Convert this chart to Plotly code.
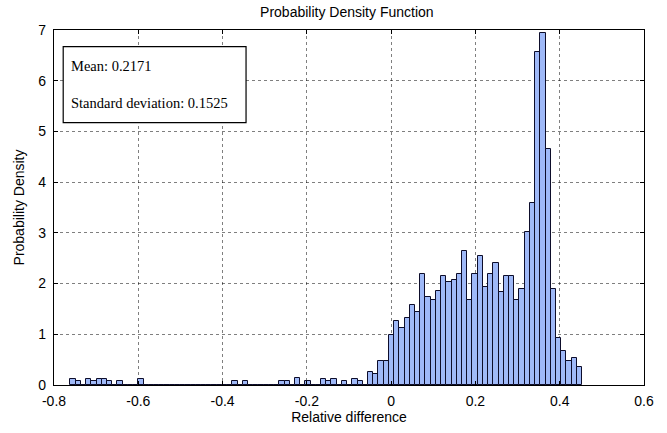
import numpy as np
import plotly.graph_objects as go

# Histogram (probability density), 98 equal bins
bin_lo = -0.7609
bin_hi = 0.4530
density = [
    0.12, 0.08, 0.00, 0.12, 0.08, 0.12, 0.12, 0.08, 0.00, 0.08,
    0.00, 0.00, 0.00, 0.12, 0.00, 0.00, 0.00, 0.00, 0.00, 0.00,
    0.00, 0.00, 0.00, 0.00, 0.00, 0.00, 0.00, 0.00, 0.00, 0.00,
    0.00, 0.08, 0.00, 0.08, 0.00, 0.00, 0.00, 0.00, 0.00, 0.00,
    0.08, 0.08, 0.00, 0.13, 0.00, 0.08, 0.00, 0.00, 0.12, 0.08,
    0.12, 0.00, 0.08, 0.00, 0.12, 0.08, 0.00, 0.26, 0.22, 0.47,
    0.47, 0.99, 1.27, 1.12, 1.32, 1.58, 1.43, 2.18, 1.73, 1.68,
    1.85, 2.14, 2.04, 2.08, 2.18, 2.64, 1.68, 2.18, 2.54, 1.94,
    2.18, 2.40, 1.84, 2.14, 2.14, 1.68, 1.89, 3.01, 3.58, 6.57,
    6.94, 4.65, 1.89, 0.93, 0.67, 0.48, 0.53, 0.36,
]
x_ticks = [-0.8, -0.6, -0.4, -0.2, 0, 0.2, 0.4, 0.6]
x_tick_text = ["-0.8", "-0.6", "-0.4", "-0.2", "0", "0.2", "0.4", "0.6"]
y_ticks = [0, 1, 2, 3, 4, 5, 6, 7]
stats_lines = ["Mean: 0.2171", "Standard deviation: 0.1525"]

n = len(density)
edges = np.linspace(bin_lo, bin_hi, n + 1)
centers = (edges[:-1] + edges[1:]) / 2
width = edges[1] - edges[0]

fig = go.Figure()
fig.add_trace(go.Bar(
    x=centers, y=density, width=width,
    marker=dict(color="#9fb9f8", line=dict(color="#0d0d2a", width=1)),
    showlegend=False,
))

font_sans = "Liberation Sans, Arial, sans-serif"
fig.update_layout(
    width=667, height=433,
    margin=dict(l=54, r=23, t=30, b=48),
    paper_bgcolor="white", plot_bgcolor="white",
    bargap=0,
    title=dict(text="Probability Density Function", x=0.52, xanchor="center",
               y=0.972, yanchor="middle",
               font=dict(family=font_sans, size=14, color="black")),
    font=dict(family=font_sans, size=13, color="black"),
)
fig.update_xaxes(
    range=[-0.8, 0.6], tickvals=x_ticks, ticktext=x_tick_text,
    showgrid=True, gridcolor="rgba(0,0,0,0.5)", griddash="dot", gridwidth=1,
    zeroline=False, showline=True, linecolor="black", linewidth=1.3, mirror="ticks",
    ticks="inside", ticklen=4, tickcolor="black",
    ticklabelstandoff=3,
    tickfont=dict(family=font_sans, size=14),
    title=dict(text="Relative difference", font=dict(family=font_sans, size=14), standoff=2),
)
fig.update_yaxes(
    range=[0, 7], tickvals=y_ticks,
    showgrid=True, gridcolor="rgba(0,0,0,0.5)", griddash="dot", gridwidth=1,
    zeroline=False, showline=True, linecolor="black", linewidth=1.3, mirror="ticks",
    ticks="inside", ticklen=4, tickcolor="black",
    ticklabelstandoff=4,
    tickfont=dict(family=font_sans, size=14),
    title=dict(text="Probability Density", font=dict(family=font_sans, size=14), standoff=10),
)

# Statistics text box
fig.add_shape(type="rect", xref="paper", yref="paper",
              x0=0.0156, x1=0.3255, y0=0.739, y1=0.953,
              line=dict(color="black", width=1.2), fillcolor="white", layer="above")
for text, yp in zip(stats_lines, [0.899, 0.795]):
    fig.add_annotation(xref="paper", yref="paper", x=0.0257, y=yp,
                       text=text, showarrow=False, xanchor="left", yanchor="middle",
                       font=dict(family="Liberation Serif, Times New Roman, serif",
                                 size=14.5, color="black"))

fig.write_html("out.html")
